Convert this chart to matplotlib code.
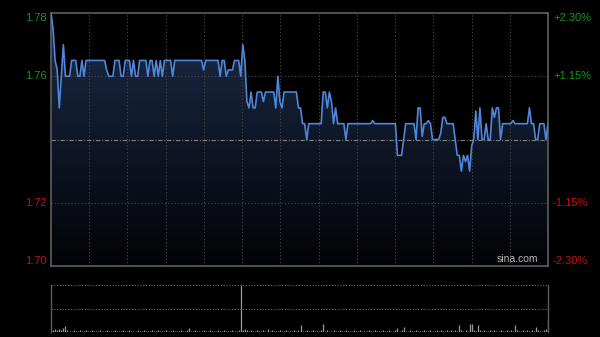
import numpy as np
import matplotlib
matplotlib.use("Agg")
import matplotlib.pyplot as plt
from matplotlib.colors import LinearSegmentedColormap
from matplotlib.patches import Polygon

plt.rcParams["font.family"] = ["Liberation Sans", "DejaVu Sans"]

# intraday price, one value per minute
prices = [
    1.780, 1.775, 1.765, 1.762, 1.750, 1.760, 1.770, 1.760, 1.760, 1.760,
    1.765, 1.765, 1.765, 1.760, 1.760, 1.765, 1.760, 1.765, 1.765, 1.765,
    1.765, 1.765, 1.765, 1.765, 1.765, 1.765, 1.765, 1.762, 1.760, 1.760,
    1.760, 1.765, 1.765, 1.765, 1.760, 1.760, 1.765, 1.765, 1.765, 1.760,
    1.765, 1.760, 1.760, 1.765, 1.765, 1.765, 1.765, 1.760, 1.765, 1.765,
    1.760, 1.765, 1.760, 1.765, 1.760, 1.765, 1.765, 1.765, 1.765, 1.760,
    1.765, 1.765, 1.765, 1.765, 1.765, 1.765, 1.765, 1.765, 1.765, 1.765,
    1.765, 1.765, 1.765, 1.765, 1.762, 1.765, 1.765, 1.765, 1.765, 1.765,
    1.765, 1.765, 1.760, 1.765, 1.765, 1.760, 1.762, 1.762, 1.762, 1.765,
    1.765, 1.765, 1.760, 1.770, 1.765, 1.752, 1.750, 1.755, 1.750, 1.750,
    1.755, 1.755, 1.755, 1.752, 1.755, 1.755, 1.755, 1.755, 1.755, 1.750,
    1.760, 1.752, 1.750, 1.755, 1.755, 1.755, 1.755, 1.755, 1.755, 1.755,
    1.750, 1.750, 1.745, 1.745, 1.740, 1.745, 1.745, 1.745, 1.745, 1.745,
    1.745, 1.745, 1.755, 1.755, 1.750, 1.755, 1.752, 1.745, 1.750, 1.745,
    1.745, 1.745, 1.745, 1.740, 1.745, 1.745, 1.745, 1.745, 1.745, 1.745,
    1.745, 1.745, 1.745, 1.745, 1.745, 1.745, 1.746, 1.745, 1.745, 1.745,
    1.745, 1.745, 1.745, 1.745, 1.745, 1.745, 1.745, 1.745, 1.735, 1.735,
    1.735, 1.740, 1.745, 1.745, 1.745, 1.745, 1.745, 1.740, 1.750, 1.750,
    1.741, 1.745, 1.745, 1.746, 1.745, 1.740, 1.740, 1.740, 1.740, 1.742,
    1.747, 1.747, 1.745, 1.745, 1.745, 1.745, 1.740, 1.735, 1.735, 1.730,
    1.735, 1.733, 1.735, 1.730, 1.738, 1.740, 1.749, 1.740, 1.750, 1.740,
    1.740, 1.745, 1.740, 1.740, 1.750, 1.747, 1.750, 1.750, 1.740, 1.745,
    1.745, 1.745, 1.745, 1.745, 1.746, 1.745, 1.745, 1.745, 1.745, 1.745,
    1.745, 1.745, 1.750, 1.745, 1.745, 1.740, 1.740, 1.745, 1.745, 1.745,
    1.740, 1.745,
]

# volume per minute (relative units)
volume = [
    6, 4, 6, 5, 6, 4, 8, 13, 4, 3,
    3, 4, 3, 3, 4, 3, 3, 4, 3, 3,
    4, 3, 3, 3, 4, 3, 3, 4, 3, 3,
    3, 4, 3, 3, 3, 4, 3, 3, 4, 3,
    3, 3, 4, 3, 3, 4, 3, 3, 3, 4,
    3, 3, 4, 3, 3, 3, 4, 3, 3, 4,
    3, 3, 3, 4, 3, 3, 4, 8, 3, 3,
    4, 3, 3, 3, 4, 3, 3, 4, 3, 3,
    3, 4, 3, 3, 4, 3, 3, 3, 4, 3,
    3, 4, 100, 4, 7, 4, 3, 4, 3, 3,
    4, 3, 3, 4, 3, 6, 3, 4, 3, 3,
    3, 4, 3, 3, 4, 3, 3, 3, 4, 3,
    4, 15, 3, 3, 4, 3, 3, 4, 3, 3,
    3, 4, 17, 3, 4, 3, 3, 4, 3, 3,
    4, 3, 3, 4, 3, 3, 3, 4, 3, 3,
    4, 3, 3, 3, 4, 3, 3, 4, 3, 3,
    3, 4, 3, 3, 4, 3, 3, 4, 9, 3,
    4, 11, 3, 3, 4, 3, 3, 4, 3, 3,
    3, 4, 3, 3, 4, 3, 3, 4, 3, 4,
    3, 3, 4, 3, 4, 3, 4, 3, 15, 4,
    3, 4, 3, 17, 17, 4, 3, 15, 4, 3,
    4, 3, 3, 4, 3, 4, 3, 3, 4, 3,
    3, 4, 3, 4, 3, 15, 4, 3, 3, 4,
    3, 4, 3, 4, 3, 11, 4, 3, 3, 4,
    6, 28,
]

prev_close = 1.74
price_ticks = [1.78, 1.76, 1.74, 1.72, 1.70]
left_labels = ["1.78", "1.76", "", "1.72", "1.70"]
right_labels = ["+2.30%", "+1.15%", "", "-1.15%", "-2.30%"]

GREEN = "#139a13"
RED = "#c81010"
FRAME = "#5e5e5e"
GRID = "#4a4a4a"

x = np.arange(len(prices))
x_max = 241
y_lo, y_hi = 1.70, 1.78

fig = plt.figure(figsize=(6, 3.37), dpi=100, facecolor="black")
ax = fig.add_axes([51 / 600, 1 - 266 / 337, 497 / 600, 253 / 337])
vax = fig.add_axes([51 / 600, 1 - 332 / 337, 497 / 600, 47 / 337])

# price panel
ax.set_facecolor("black")
grad = np.linspace(1, 0, 256).reshape(-1, 1)
cmap = LinearSegmentedColormap.from_list("fill", ["#020305", "#1c2c4a"])
im = ax.imshow(grad, cmap=cmap, aspect="auto", extent=[0, x_max, y_lo, y_hi],
               origin="upper", zorder=1)
verts = list(zip(x, prices)) + [(x[-1], y_lo), (0, y_lo)]
clip = Polygon(verts, closed=True, facecolor="none", edgecolor="none")
ax.add_patch(clip)
im.set_clip_path(clip)

for k in range(1, 13):
    ax.axvline(x_max * k / 13, color=GRID, lw=0.8, ls=(0, (1, 2)), zorder=2)
for p in [1.76, 1.72]:
    ax.axhline(p, color=GRID, lw=0.8, ls=(0, (1, 2)), zorder=2)
ax.axhline(prev_close, color="#808080", lw=0.8, ls=(0, (4, 1.5, 1, 1.5)), zorder=2)

ax.plot(x, prices, color="#4f86d8", lw=1.2, zorder=3)

ax.set_xlim(0, x_max)
ax.set_ylim(y_lo, y_hi)
ax.set_xticks([])
ax.set_yticks([])
for s in ax.spines.values():
    s.set_color(FRAME)
    s.set_linewidth(1.2)

for p, ll, rl in zip(price_ticks, left_labels, right_labels):
    if not ll:
        continue
    color = GREEN if p > prev_close else RED
    va = "center"
    if p == y_hi:
        va = "top"
    elif p == y_lo:
        va = "bottom"
    ax.text(-0.008, p, ll, transform=ax.get_yaxis_transform(), ha="right", va=va,
            color=color, fontsize=8)
    ax.text(1.01, p, rl, transform=ax.get_yaxis_transform(), ha="left", va=va,
            color=color, fontsize=8)

ax.text(0.98, 0.008, "sina.com", transform=ax.transAxes, ha="right", va="bottom",
        color="#b8b8b8", fontsize=7.5)

# volume panel
vax.set_facecolor("black")
vax.vlines(np.arange(len(volume)), 0, volume, color="#9a9a9a", lw=0.9)
vax.set_xlim(0, x_max)
vax.set_ylim(0, max(volume))
for p in [max(volume), max(volume) / 2]:
    vax.axhline(p, color="#6a6a6a", lw=0.8, ls=(0, (1, 1.5)))
vax.set_xticks([])
vax.set_yticks([])
for side in ["top", "bottom"]:
    vax.spines[side].set_visible(False)
for side in ["left", "right"]:
    vax.spines[side].set_color(FRAME)
    vax.spines[side].set_linewidth(1.0)

fig.savefig("out.png", dpi=100, facecolor="black")
